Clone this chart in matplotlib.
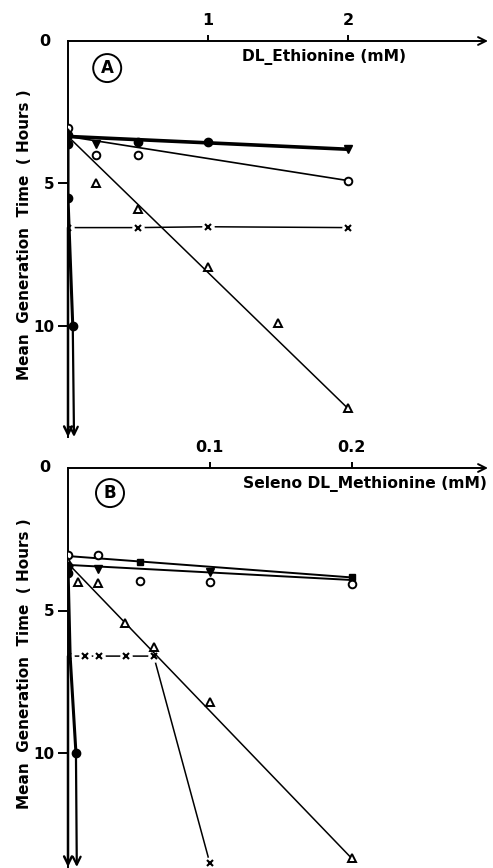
import matplotlib
matplotlib.use("Agg")
import matplotlib.pyplot as plt

plt.rcParams['font.family'] = ['DejaVu Sans']
plt.rcParams['font.weight'] = 'bold'

# ---- panel A : DL-Ethionine (mM) ----
a_xmax, a_ymax = 3.0, 13.9
a_xticks = [1, 2]
a_open_circ_x = [0, 0.2, 0.5, 2]
a_open_circ_y = [3.05, 4.0, 4.0, 4.9]
a_fill_circ_x = [0, 0, 0.5, 1.0]
a_fill_circ_y = [3.3, 3.6, 3.53, 3.56]
a_fill_tri_x = [0.2, 2]
a_fill_tri_y = [3.62, 3.8]
a_open_tri_x = [0, 0.2, 0.5, 1, 1.5, 2]
a_open_tri_y = [3.24, 4.97, 5.89, 7.92, 9.91, 12.89]
a_cross_x = [0, 0.5, 1, 2]
a_cross_y = [6.55, 6.55, 6.52, 6.55]
a_drop_x = [0, 0.0, 0.034, 0.043]
a_drop_y = [3.35, 5.52, 10.0, 13.9]
a_drop2_x = [0, 0]
a_drop2_y = [6.55, 13.9]
# hand drawn fits
a_fit_fill = ([0, 2], [3.35, 3.8])
a_fit_circ = ([0, 2], [3.35, 4.9])
a_fit_tri = ([0, 2], [3.35, 12.9])

# ---- panel B : Seleno DL-Methionine (mM) ----
b_xmax, b_ymax = 0.296, 14.0
b_xticks = [0.1, 0.2]
b_open_circ_x = [0, 0.021, 0.051, 0.1, 0.2]
b_open_circ_y = [3.07, 3.05, 3.96, 3.99, 4.08]
b_fill_circ_x = [0, 0]
b_fill_circ_y = [3.45, 3.69]
b_fill_tri_x = [0.021, 0.1]
b_fill_tri_y = [3.54, 3.66]
b_fill_sq_x = [0.051, 0.2]
b_fill_sq_y = [3.31, 3.84]
b_open_tri_x = [0, 0.0068, 0.0213, 0.0405, 0.0606, 0.1, 0.2]
b_open_tri_y = [3.31, 3.99, 4.05, 5.43, 6.27, 8.2, 13.7]
b_cross_x = [0, 0.012, 0.0218, 0.0407, 0.0604, 0.1]
b_cross_y = [6.6, 6.6, 6.6, 6.6, 6.6, 13.87]
b_drop_x = [0, 0.0015, 0.0056, 0.0062]
b_drop_y = [3.5, 6.6, 10.0, 14.0]
b_drop2_x = [0, 0]
b_drop2_y = [6.6, 14.0]
b_fit_upper = ([0, 0.2], [3.09, 3.84])
b_fit_lower = ([0, 0.2], [3.4, 3.93])
b_fit_tri = ([0, 0.2], [3.35, 13.7])


def arrow(ax, x0, y0, x1, y1, lw):
    ax.annotate('', xy=(x1, y1), xytext=(x0, y0),
                arrowprops=dict(arrowstyle='->', lw=lw, color='black',
                                shrinkA=0, shrinkB=0, mutation_scale=14),
                annotation_clip=False, zorder=5)


def setup(ax, xmax, ymax, xticks, xlabels, title, title_xy, letter, letter_xy):
    ax.set_xlim(0, xmax)
    ax.set_ylim(ymax, 0)
    for s in ['right', 'bottom', 'top']:
        ax.spines[s].set_visible(False)
    ax.spines['left'].set_linewidth(1.4)
    ax.xaxis.tick_top()
    ax.set_xticks(xticks)
    ax.set_xticklabels(xlabels)
    ax.set_yticks([5, 10])
    ax.set_yticklabels(['5', '10'])
    ax.tick_params(axis='x', direction='out', length=4.5, width=1.4, pad=5, labelsize=11.5)
    ax.tick_params(axis='y', direction='out', length=7, width=1.4, pad=3, labelsize=11)
    ax.text(-0.055, 0, '0', transform=ax.get_yaxis_transform(), ha='center', va='center',
            fontsize=11.5)
    arrow(ax, 0, 0, xmax, 0, 1.4)
    ax.text(title_xy[0], title_xy[1], title, ha='center', va='center', fontsize=11.2)
    ax.text(letter_xy[0], letter_xy[1], letter, ha='center', va='center', fontsize=12,
            bbox=dict(boxstyle='circle,pad=0.3', fc='white', ec='black', lw=1.4))
    ax.patch.set_visible(False)


def crosses(ax, xs, ys):
    ax.plot(xs, ys, color='black', lw=1.1, zorder=1.5)
    ax.plot(xs, ys, ls='none', marker='o', ms=9, mfc='white', mec='none', zorder=1.6)
    ax.plot(xs, ys, ls='none', marker='x', ms=4.5, mew=1.5, color='black', zorder=4)


open_kw = dict(ls='none', mfc='white', mec='black', mew=1.4, zorder=4)
fill_kw = dict(ls='none', color='black', zorder=4)

fig = plt.figure(figsize=(4.93, 8.68), dpi=100)
axA = fig.add_axes([68 / 493, 1 - 437 / 868, 420 / 493, 396 / 868])
axB = fig.add_axes([68 / 493, 1 - 867 / 868, 420 / 493, 399 / 868])

# panel A
setup(axA, a_xmax, a_ymax, a_xticks, ['1', '2'], 'DL_Ethionine (mM)', (1.83, 0.55),
      'A', (0.28, 0.95))
axA.plot(*a_fit_fill, color='black', lw=2.6, zorder=3)
axA.plot(*a_fit_circ, color='black', lw=1.2, zorder=3)
axA.plot(*a_fit_tri, color='black', lw=1.1, zorder=3)
crosses(axA, a_cross_x, a_cross_y)
axA.plot(a_drop_x[:-1], a_drop_y[:-1], color='black', lw=2.2, zorder=3)
arrow(axA, a_drop_x[-2], a_drop_y[-2], a_drop_x[-1], a_drop_y[-1], 1.6)
arrow(axA, a_drop2_x[0], a_drop2_y[0], a_drop2_x[1], a_drop2_y[1], 1.8)
axA.plot(a_open_circ_x, a_open_circ_y, marker='o', ms=5.5, **open_kw)
axA.plot(a_open_tri_x, a_open_tri_y, marker='^', ms=6, **open_kw)
axA.plot(a_fill_circ_x, a_fill_circ_y, marker='o', ms=6, **fill_kw)
axA.plot(a_fill_tri_x, a_fill_tri_y, marker='v', ms=5.5, **fill_kw)
axA.plot(a_drop_x[1:3], a_drop_y[1:3], marker='o', ms=6, **fill_kw)

# panel B
setup(axB, b_xmax, b_ymax, b_xticks, ['0.1', '0.2'], 'Seleno DL_Methionine (mM)',
      (0.209, 0.55), 'B', (0.0296, 0.88))
axB.plot(*b_fit_upper, color='black', lw=1.4, zorder=3)
axB.plot(*b_fit_lower, color='black', lw=1.4, zorder=3)
axB.plot(*b_fit_tri, color='black', lw=1.1, zorder=3)
crosses(axB, b_cross_x, b_cross_y)
axB.plot(b_drop_x[:-1], b_drop_y[:-1], color='black', lw=2.2, zorder=3)
arrow(axB, b_drop_x[-2], b_drop_y[-2], b_drop_x[-1], b_drop_y[-1], 1.6)
arrow(axB, b_drop2_x[0], b_drop2_y[0], b_drop2_x[1], b_drop2_y[1], 1.8)
axB.plot(b_open_circ_x, b_open_circ_y, marker='o', ms=5.5, **open_kw)
axB.plot(b_open_tri_x, b_open_tri_y, marker='^', ms=6, **open_kw)
axB.plot(b_fill_circ_x, b_fill_circ_y, marker='o', ms=6, **fill_kw)
axB.plot(b_fill_tri_x, b_fill_tri_y, marker='v', ms=5.5, **fill_kw)
axB.plot(b_fill_sq_x, b_fill_sq_y, marker='s', ms=5, **fill_kw)
axB.plot(b_drop_x[2:3], b_drop_y[2:3], marker='o', ms=6, **fill_kw)

fig.text(25 / 493, 1 - 235 / 868, 'Mean  Generation  Time  ( Hours )', rotation=90,
         ha='center', va='center', fontsize=11)
fig.text(25 / 493, 1 - 664 / 868, 'Mean  Generation  Time  ( Hours )', rotation=90,
         ha='center', va='center', fontsize=11)

fig.savefig('out.png', dpi=100)
